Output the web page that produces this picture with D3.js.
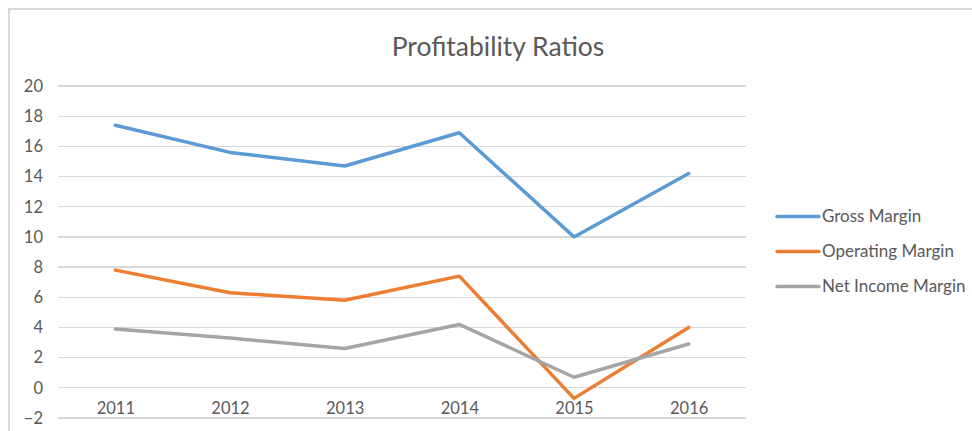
<!DOCTYPE html>
<html>
<head>
<meta charset="utf-8">
<script src="https://cdn.jsdelivr.net/npm/d3@7/dist/d3.min.js"></script>
<style>
  html, body { margin: 0; padding: 0; background: #fff; }
  svg { display: block; font-family: Lato, "Open Sans", sans-serif; }
</style>
</head>
<body>
<svg id="chart" width="972" height="431"></svg>
<script>
const title = "Profitability Ratios";
const years = ["2011", "2012", "2013", "2014", "2015", "2016"];
const seriesNames = ["Gross Margin", "Operating Margin", "Net Income Margin"];
const grossMargin = [17.4, 15.6, 14.7, 16.9, 10.0, 14.2];
const operatingMargin = [7.8, 6.3, 5.8, 7.4, -0.7, 4.0];
const netIncomeMargin = [3.9, 3.3, 2.6, 4.2, 0.7, 2.9];
const yTicks = [-2, 0, 2, 4, 6, 8, 10, 12, 14, 16, 18, 20];
const colors = ["#5B9BD5", "#ED7D31", "#A5A5A5"];

const series = [grossMargin, operatingMargin, netIncomeMargin].map((vals, i) => ({
  name: seriesNames[i], color: colors[i], values: vals
}));

const svg = d3.select("#chart");
const W = 972, H = 431;

// chart border
svg.append("path")
  .attr("d", `M9,${H} L9,9 L${W},9`)
  .attr("fill", "none").attr("stroke", "#D9D9D9").attr("stroke-width", 2);

const plot = { left: 58, right: 746, top: 86, bottom: 418 };

const x = d3.scalePoint().domain(years).range([plot.left, plot.right]).padding(0.5);
const y = d3.scaleLinear().domain([-2, 20]).range([plot.bottom, plot.top]);

// gridlines
svg.append("g").selectAll("line").data(yTicks).join("line")
  .attr("x1", plot.left).attr("x2", plot.right)
  .attr("y1", d => y(d)).attr("y2", d => y(d))
  .attr("stroke", "#D9D9D9").attr("stroke-width", 1.2)
  .attr("shape-rendering", "crispEdges");

// y axis labels
const yAxis = d3.axisLeft(y).tickValues(yTicks).tickSize(0).tickPadding(0).tickFormat(d3.format("d"));
const ya = svg.append("g").attr("transform", `translate(43,0)`).call(yAxis);
ya.select(".domain").remove();
ya.selectAll("text").attr("fill", "#595959").style("font-size", "16.5px")
  .style("font-family", "Lato, 'Open Sans', sans-serif");

// x axis labels (placed near the bottom)
const xAxis = d3.axisBottom(x).tickSize(0).tickPadding(0);
const xa = svg.append("g").attr("transform", `translate(0,402)`).call(xAxis);
xa.select(".domain").remove();
xa.selectAll("text").attr("fill", "#595959").style("font-size", "16.5px")
  .style("font-family", "Lato, 'Open Sans', sans-serif");

// lines
const line = d3.line().x((d, i) => x(years[i])).y(d => y(d));
svg.append("g").selectAll("path").data(series).join("path")
  .attr("d", d => line(d.values))
  .attr("fill", "none")
  .attr("stroke", d => d.color)
  .attr("stroke-width", 3.5)
  .attr("stroke-linejoin", "round")
  .attr("stroke-linecap", "round");

// title
svg.append("text")
  .attr("x", 498).attr("y", 56)
  .attr("text-anchor", "middle")
  .attr("fill", "#595959")
  .style("font-size", "26.5px")
  .text(title);

// legend
const lg = svg.append("g").selectAll("g").data(series).join("g")
  .attr("transform", (d, i) => `translate(777,${216.5 + i * 35})`);
lg.append("line").attr("x1", 0).attr("x2", 42).attr("y1", 0).attr("y2", 0)
  .attr("stroke", d => d.color).attr("stroke-width", 3.5).attr("stroke-linecap", "round");
lg.append("text").attr("x", 45).attr("y", 0).attr("dy", "0.35em")
  .attr("fill", "#595959").style("font-size", "17px")
  .text(d => d.name);
</script>
</body>
</html>
